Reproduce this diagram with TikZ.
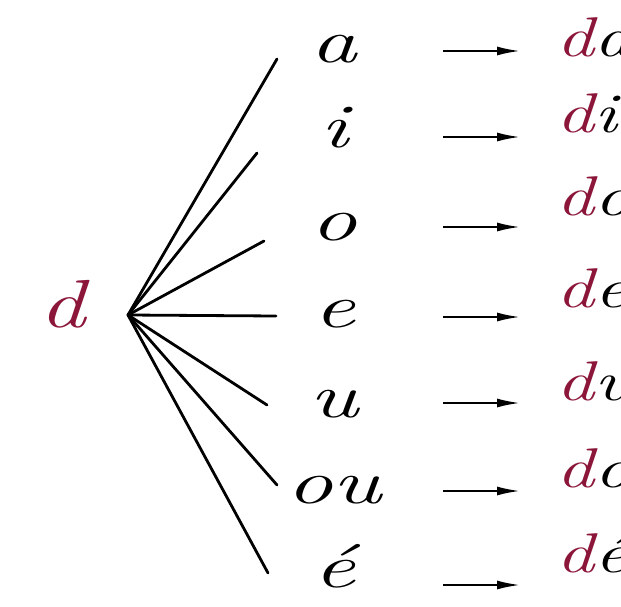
\documentclass[tikz,border=0pt]{standalone}
\usepackage{fontspec}
\usetikzlibrary{arrows.meta}
\definecolor{dred}{RGB}{140,22,58}
\tikzset{
    vowel/.style={anchor=base, inner sep=0pt,
        font=\fontsize{62}{68}\selectfont\itshape},
    sylb/.style={anchor=base west, inner sep=0pt,
        font=\fontsize{56}{62}\selectfont\itshape},
    fan/.style={line width=2.8pt, line cap=round},
    toarrow/.style={line width=2.6pt, -{Latex[length=24pt,width=9pt]}}
}
\begin{document}
\begin{tikzpicture}[x=1pt, y=-1pt]
    \useasboundingbox (0,0) rectangle (621,607);
    \clip (0,0) rectangle (621,607);

    \node[anchor=base, inner sep=0pt, text=dred,
        font=\fontsize{68}{74}\selectfont\itshape] (d) at (62,327)
        {\scalebox{1.35}[1]{d}};
    \coordinate (hub) at (128,315);

    % vowel / baseline / line end / arrow height / syllable baseline
    \foreach \v/\yb/\ex/\ey/\ya/\ys [count=\i] in
        {a/63/277/59/51/57, i/147/257/153/137/133, o/240/264/241/227/215,
         e/327/276/316/317/307, u/417/267/405/403/400,
         ou/503/277/485/491/487, é/587/268/573/585/572}
    {
        \node[vowel] (v\i) at (334,\yb) {\scalebox{1.5}[1]{\v}};
        \coordinate (end\i) at (\ex,\ey);
        \draw[fan] (hub) -- (end\i);

        \coordinate (tail\i) at (443,\ya);
        \coordinate (tip\i) at (521,\ya);
        \draw[toarrow] (tail\i) -- (tip\i);

        \node[sylb] (s\i) at (556,\ys)
            {\scalebox{1.35}[1]{\textcolor{dred}{d}\v}};
    }
\end{tikzpicture}
\end{document}
